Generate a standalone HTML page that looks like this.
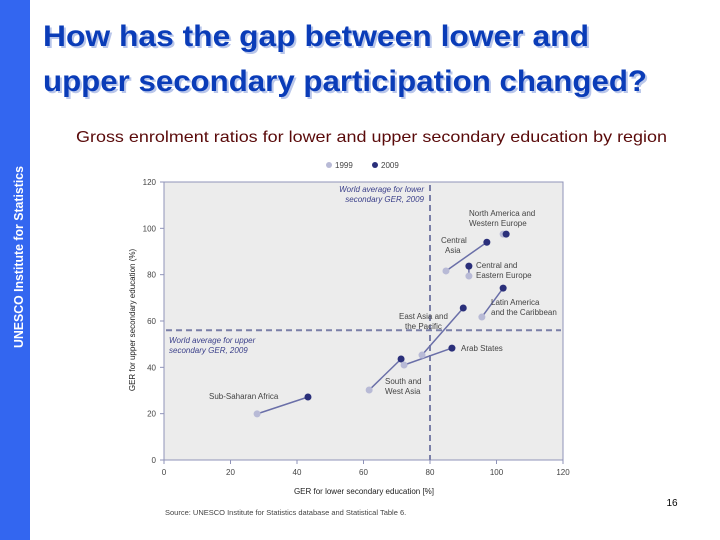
<!DOCTYPE html>
<html><head><meta charset="utf-8"><style>
html,body{margin:0;padding:0;background:#fff;}
svg{display:block;font-family:"Liberation Sans",sans-serif;}
</style></head><body>
<svg id="c" width="720" height="540" viewBox="0 0 720 540">
<rect x="0" y="0" width="30" height="540" fill="#3366f0"/>
<text transform="translate(23,348) rotate(-90)" fill="#fff" font-size="13" font-weight="bold" textLength="182" lengthAdjust="spacingAndGlyphs">UNESCO Institute for Statistics</text>
<g font-size="30" font-weight="bold">
<text x="45" y="48" fill="#b9c6ea" textLength="546" lengthAdjust="spacingAndGlyphs">How has the gap between lower and</text>
<text x="43" y="46" fill="#0a3cb8" textLength="546" lengthAdjust="spacingAndGlyphs">How has the gap between lower and</text>
<text x="45" y="93" fill="#b9c6ea" textLength="604" lengthAdjust="spacingAndGlyphs">upper secondary participation changed?</text>
<text x="43" y="91" fill="#0a3cb8" textLength="604" lengthAdjust="spacingAndGlyphs">upper secondary participation changed?</text>
</g>
<text x="76" y="142" fill="#5a0a0a" font-size="16" textLength="591" lengthAdjust="spacingAndGlyphs">Gross enrolment ratios for lower and upper secondary education by region</text>
<rect x="164" y="182" width="399" height="278" fill="#ececec" stroke="#8f93b8" stroke-width="1"/>
<g id="marks"></g>
<text x="672" y="506" font-size="10" fill="#000" text-anchor="middle">16</text>
</svg>
<script>
const regions = ["Sub-Saharan Africa","South and West Asia","Arab States","East Asia and the Pacific","Latin America and the Caribbean","Central Asia","Central and Eastern Europe","North America and Western Europe"];
const lower1999 = [28, 61.7, 72.2, 77.6, 95.6, 84.8, 91.7, 102];
const upper1999 = [19.9, 30.2, 41, 45.3, 61.7, 81.6, 79.4, 97.5];
const lower2009 = [43.3, 71.3, 86.6, 90, 102, 97.1, 91.7, 102.9];
const upper2009 = [27.2, 43.6, 48.3, 65.6, 74.2, 94, 83.7, 97.5];
const xTicks = [0, 20, 40, 60, 80, 100, 120];
const yTicks = [0, 20, 40, 60, 80, 100, 120];
const worldLower = 80;
const worldUpper = 56;

const NS = "http://www.w3.org/2000/svg";
const X = v => 164 + v / 120 * 399;
const Y = v => 460 - v / 120 * 278;
const g = document.getElementById("marks");
function mk(tag, attrs, parent) {
  const e = document.createElementNS(NS, tag);
  for (const k in attrs) e.setAttribute(k, attrs[k]);
  (parent || g).appendChild(e);
  return e;
}
function txt(x, y, s, attrs) {
  const e = mk("text", Object.assign({x: x, y: y, "font-size": 8, fill: "#444"}, attrs || {}));
  e.textContent = s;
  return e;
}
// ticks
xTicks.forEach(t => {
  const l = mk("line", {x1: X(t), x2: X(t), y1: 460, y2: 464, stroke: "#8f93b8"});
  
  
  const e = txt(X(t), 475, String(t), {"text-anchor": "middle"});
  
  
});
yTicks.forEach(t => {
  const l = mk("line", {x1: 160, x2: 164, y1: Y(t), y2: Y(t), stroke: "#8f93b8"});
  
  
  const e = txt(156, Y(t) + 3, String(t), {"text-anchor": "end"});
  
  
});
// reference lines
const vl = mk("line", {x1: X(worldLower), x2: X(worldLower), y1: 185, y2: 460, stroke: "#7a7fa8", "stroke-width": 2, "stroke-dasharray": "6,4"});


const hl = mk("line", {x1: 166, x2: 561, y1: Y(worldUpper), y2: Y(worldUpper), stroke: "#7a7fa8", "stroke-width": 2, "stroke-dasharray": "6,4"});


const a1 = txt(424, 192, "World average for lower", {"text-anchor": "end", "font-style": "italic", fill: "#3a3f8a"});


txt(424, 202, "secondary GER, 2009", {"text-anchor": "end", "font-style": "italic", fill: "#3a3f8a"});
const a2 = txt(169, 343, "World average for upper", {"font-style": "italic", fill: "#3a3f8a"});


txt(169, 353, "secondary GER, 2009", {"font-style": "italic", fill: "#3a3f8a"});
// series
regions.forEach((r, i) => {
  const l = mk("line", {x1: X(lower1999[i]), y1: Y(upper1999[i]), x2: X(lower2009[i]), y2: Y(upper2009[i]), stroke: "#6a6fa8", "stroke-width": 1.5});
  
  
  const p1 = mk("circle", {cx: X(lower1999[i]), cy: Y(upper1999[i]), r: 3.5, fill: "#b8bad6"});
  
  
  const p2 = mk("circle", {cx: X(lower2009[i]), cy: Y(upper2009[i]), r: 3.5, fill: "#2a2f7a"});
  
  
});
// region labels
const labels = [
  [[209, 399, "Sub-Saharan Africa"]],
  [[385, 384, "South and"], [385, 394, "West Asia"]],
  [[461, 351, "Arab States"]],
  [[399, 319, "East Asia and"], [405, 329, "the Pacific"]],
  [[491, 305, "Latin America"], [491, 315, "and the Caribbean"]],
  [[441, 243, "Central"], [445, 253, "Asia"]],
  [[476, 268, "Central and"], [476, 278, "Eastern Europe"]],
  [[469, 216, "North America and"], [469, 226, "Western Europe"]]
];
labels.forEach(ls => ls.forEach(a => {
  const e = txt(a[0], a[1], a[2]);
  
  
}));
// legend
const lg1 = mk("circle", {cx: 329, cy: 165, r: 3, fill: "#b8bad6"});


const lt1 = txt(335, 168, "1999");


const lg2 = mk("circle", {cx: 375, cy: 165, r: 3, fill: "#2a2f7a"});


const lt2 = txt(381, 168, "2009");


// axis titles
const xt = txt(364, 494, "GER for lower secondary education [%]", {"text-anchor": "middle", fill: "#222"});


const yt = txt(0, 0, "GER for upper secondary education (%)", {"text-anchor": "middle", fill: "#222", transform: "translate(135,320) rotate(-90)"});


const src = txt(165, 515, "Source: UNESCO Institute for Statistics database and Statistical Table 6.", {"font-size": 7.5});


</script>
</body></html>
